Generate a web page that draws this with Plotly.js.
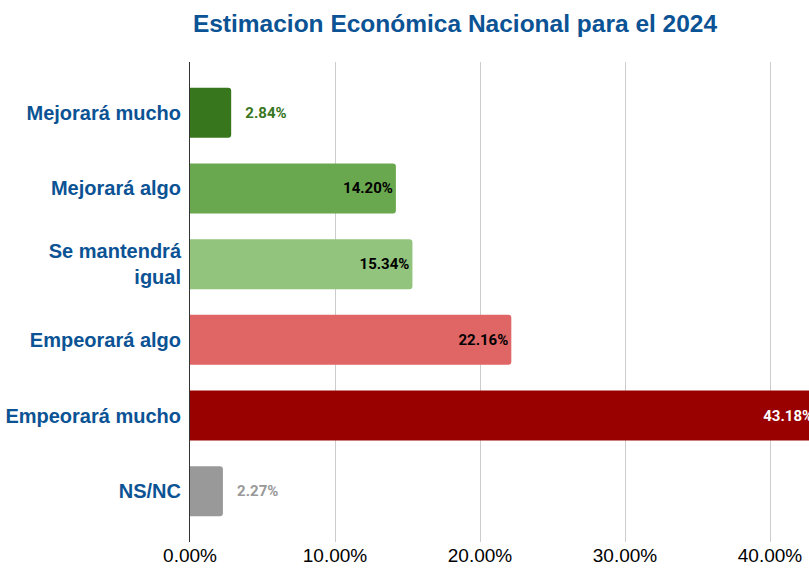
<!DOCTYPE html>
<html>
<head>
<meta charset="utf-8">
<script src="https://cdn.plot.ly/plotly-3.0.1.min.js"></script>
<style>
  html, body { margin: 0; padding: 0; background: #fff; }
  #chart { width: 809px; height: 574px; }
</style>
</head>
<body>
<div id="chart"></div>
<script>
// Data
const categories = ['Mejorará mucho', 'Mejorará algo', 'Se mantendrá<br>igual', 'Empeorará algo', 'Empeorará mucho', 'NS/NC'];
const values = [0.0284, 0.1420, 0.1534, 0.2216, 0.4318, 0.0227];
const barColors = ['#38761d', '#6aa84f', '#93c47d', '#e06666', '#990000', '#999999'];
const labelColors = ['#38761d', '#000000', '#000000', '#000000', '#ffffff', '#999999'];
const labelPositions = ['outside', 'inside', 'inside', 'inside', 'inside', 'outside'];
const tickValues = [0, 0.1, 0.2, 0.3, 0.4];

const labels = values.map((v, i) =>
    (labelPositions[i] === 'outside' ? '\u00a0\u00a0\u00a0' : '') + (v * 100).toFixed(2) + '%');

const trace = {
    type: 'bar',
    orientation: 'h',
    y: categories,
    x: values,
    marker: { color: barColors, cornerradius: 3 },
    text: labels,
    textposition: labelPositions,
    insidetextanchor: 'end',
    textfont: { family: 'Roboto, Arial, sans-serif', size: 15, color: labelColors, weight: 'bold' },
    constraintext: 'none',
    cliponaxis: true,
    hoverinfo: 'skip',
    width: 0.66
};

const layout = {
    width: 809,
    height: 574,
    margin: { l: 190, r: 0, t: 62, b: 32 },
    paper_bgcolor: '#ffffff',
    plot_bgcolor: '#ffffff',
    showlegend: false,
    title: {
        text: 'Estimacion Económica Nacional para el 2024',
        font: { family: 'Liberation Sans, Arial, sans-serif', size: 24.5, color: '#0b5394', weight: 'bold' },
        xref: 'container', x: 455 / 809, xanchor: 'center',
        yref: 'container', y: 1 - 23 / 574, yanchor: 'middle'
    },
    xaxis: {
        range: [0, 619 / 1450],
        tickvals: tickValues,
        tickformat: '.2%',
        showgrid: true,
        gridcolor: '#cccccc',
        gridwidth: 1,
        zeroline: false,
        showline: false,
        ticks: '',
        tickfont: { family: 'Liberation Sans, Arial, sans-serif', size: 19, color: '#000000' },
        fixedrange: true
    },
    yaxis: {
        range: [5.67, -0.67],
        showgrid: false,
        zeroline: false,
        showline: true,
        linecolor: '#333333',
        linewidth: 1,
        ticks: '',
        ticklabelstandoff: 4,
        tickfont: { family: 'Liberation Sans, Arial, sans-serif', size: 20, color: '#0b5394', weight: 'bold' },
        fixedrange: true
    }
};

Plotly.newPlot('chart', [trace], layout, { displayModeBar: false, staticPlot: true });
</script>
</body>
</html>
